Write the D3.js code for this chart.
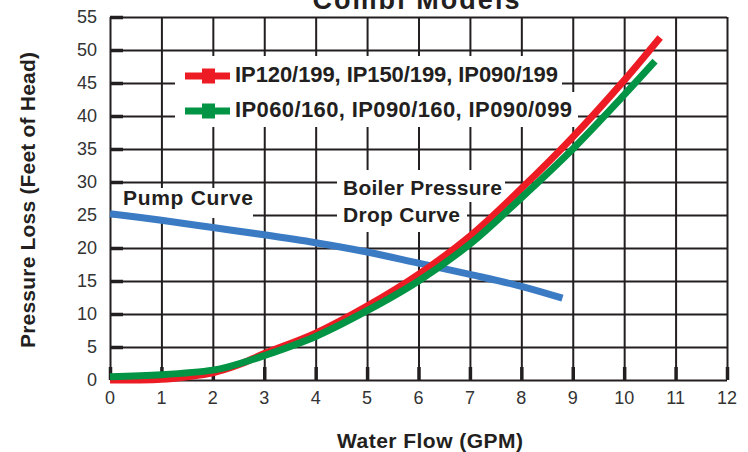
<!DOCTYPE html>
<html>
<head>
<meta charset="utf-8">
<script src="https://cdn.jsdelivr.net/npm/d3@7"></script>
<style>
  body { margin: 0; background: #fff; }
  text { font-family: "Liberation Sans", Arial, sans-serif; fill: #231f20; }
  .bold { font-weight: bold; }
</style>
</head>
<body>
<svg id="chart" width="748" height="452"></svg>
<script>
// tick values
const flowTicks = [0, 1, 2, 3, 4, 5, 6, 7, 8, 9, 10, 11, 12];
const headTicks = [0, 5, 10, 15, 20, 25, 30, 35, 40, 45, 50, 55];

// pump curve
const pumpFlow = [0, 1, 2, 3, 4, 5, 6, 7, 8, 8.8];
const pumpHead = [25.2, 24.2, 23.1, 22.0, 20.8, 19.4, 17.7, 16.0, 14.2, 12.4];

// IP120/199, IP150/199, IP090/199
const redFlow = [0, 0.5, 1, 1.5, 2, 2.5, 3, 4, 5, 6, 7, 8, 9, 10, 10.7];
const redHead = [0, 0, 0.1, 0.5, 1.1, 2.3, 4.0, 7.1, 11.2, 16.0, 21.8, 29.0, 36.8, 45.4, 51.9];

// IP060/160, IP090/160, IP090/099
const greenFlow = [0, 1, 2, 2.3, 3, 4, 5, 6, 7, 8, 9, 10, 10.6];
const greenHead = [0.5, 0.8, 1.5, 2.0, 3.7, 6.6, 10.5, 15.0, 20.6, 27.6, 35.0, 43.2, 48.3];

const legendNames = ['IP120/199, IP150/199, IP090/199', 'IP060/160, IP090/160, IP090/099'];

const red = '#ed1c24',
    green = '#009444',
    blue = '#3b7bc4',
    ink = '#231f20';

const svg = d3.select('svg#chart');

const plotLeft = 110, plotRight = 727, plotTop = 17, plotBottom = 380;

const x = d3.scaleLinear().domain([0, 12]).range([plotLeft, plotRight]);
const y = d3.scaleLinear().domain([0, 55]).range([plotBottom, plotTop]);

// grid
svg.append('g')
    .attr('transform', `translate(0,${plotBottom})`)
    .call(d3.axisBottom(x).tickValues(flowTicks).tickSize(-(plotBottom - plotTop)).tickFormat(''))
    .call(g => g.select('.domain').remove())
    .call(g => g.selectAll('line').attr('stroke', ink).attr('stroke-width', 2));

svg.append('g')
    .attr('transform', `translate(${plotLeft},0)`)
    .call(d3.axisLeft(y).tickValues(headTicks).tickSize(-(plotRight - plotLeft)).tickFormat(''))
    .call(g => g.select('.domain').remove())
    .call(g => g.selectAll('line').attr('stroke', ink).attr('stroke-width', 2));

// white boxes behind labels
const boxes = [
    [175, 56, 562, 92],
    [175, 92, 578, 127],
    [112, 188, 253, 218],
    [337, 170, 505, 202],
    [337, 202, 467, 232]
];
boxes.forEach(b => {
    svg.append('rect')
        .attr('x', b[0]).attr('y', b[1])
        .attr('width', b[2] - b[0]).attr('height', b[3] - b[1])
        .attr('fill', '#fff');
});

// thick tick marks
svg.append('g')
    .attr('transform', `translate(0,${plotBottom})`)
    .call(d3.axisBottom(x).tickValues(flowTicks).tickSize(-13).tickFormat(''))
    .call(g => g.select('.domain').remove())
    .call(g => g.selectAll('line').attr('stroke', ink).attr('stroke-width', 3.5));

svg.append('g')
    .attr('transform', `translate(${plotLeft},0)`)
    .call(d3.axisLeft(y).tickValues(headTicks).tickSize(-13).tickFormat(''))
    .call(g => g.select('.domain').remove())
    .call(g => g.selectAll('line').attr('stroke', ink).attr('stroke-width', 3.5));

// tick labels
svg.append('g')
    .selectAll('text')
    .data(flowTicks)
    .join('text')
    .attr('x', d => x(d))
    .attr('y', 404)
    .attr('text-anchor', 'middle')
    .style('font-size', '18px')
    .style('fill', '#333')
    .text(d => d);

svg.append('g')
    .selectAll('text')
    .data(headTicks)
    .join('text')
    .attr('x', 97)
    .attr('y', d => y(d) + 6)
    .attr('text-anchor', 'end')
    .style('font-size', '18px')
    .style('fill', '#333')
    .text(d => d);

// curves
const line = d3.line()
    .x(d => x(d[0]))
    .y(d => y(d[1]))
    .curve(d3.curveCatmullRom.alpha(0.5));

function drawCurve(flow, head, color) {
    svg.append('path')
        .datum(flow.map((f, i) => [f, head[i]]))
        .attr('d', line)
        .attr('fill', 'none')
        .attr('stroke', color)
        .attr('stroke-width', 7);
}

drawCurve(pumpFlow, pumpHead, blue);
drawCurve(redFlow, redHead, red);
drawCurve(greenFlow, greenHead, green);

// legend
[red, green].forEach((color, i) => {
    const cy = 76 + i * 35;
    svg.append('line')
        .attr('x1', 185).attr('x2', 230)
        .attr('y1', cy).attr('y2', cy)
        .attr('stroke', color).attr('stroke-width', 7);
    svg.append('rect')
        .attr('x', 202).attr('y', cy - 7.5)
        .attr('width', 13).attr('height', 15)
        .attr('fill', color);
    svg.append('text')
        .attr('class', 'bold')
        .attr('x', 235).attr('y', cy + 6)
        .attr('textLength', i === 0 ? 323 : 337)
        .style('font-size', '22px')
        .text(legendNames[i]);
});

// annotations
function label(txt, lx, ly, len, size) {
    svg.append('text')
        .attr('class', 'bold')
        .attr('x', lx).attr('y', ly)
        .attr('textLength', len)
        .style('font-size', size + 'px')
        .text(txt);
}

label('Pump Curve', 123, 205, 130, 21);
label('Boiler Pressure', 343, 194.5, 159, 21);
label('Drop Curve', 343, 221.7, 117, 21);

// title, cut at the top edge as in the source
svg.append('text')
    .attr('class', 'bold')
    .attr('x', 416).attr('y', 8.5)
    .attr('text-anchor', 'middle')
    .attr('textLength', 207)
    .style('font-size', '27px')
    .text('Combi Models');

// axis titles
svg.append('text')
    .attr('class', 'bold')
    .attr('x', 430).attr('y', 448)
    .attr('text-anchor', 'middle')
    .attr('textLength', 186)
    .style('font-size', '21px')
    .text('Water Flow (GPM)');

svg.append('text')
    .attr('class', 'bold')
    .attr('transform', 'translate(35,200) rotate(-90)')
    .attr('text-anchor', 'middle')
    .attr('textLength', 296)
    .style('font-size', '21px')
    .text('Pressure Loss (Feet of Head)');
</script>
</body>
</html>
